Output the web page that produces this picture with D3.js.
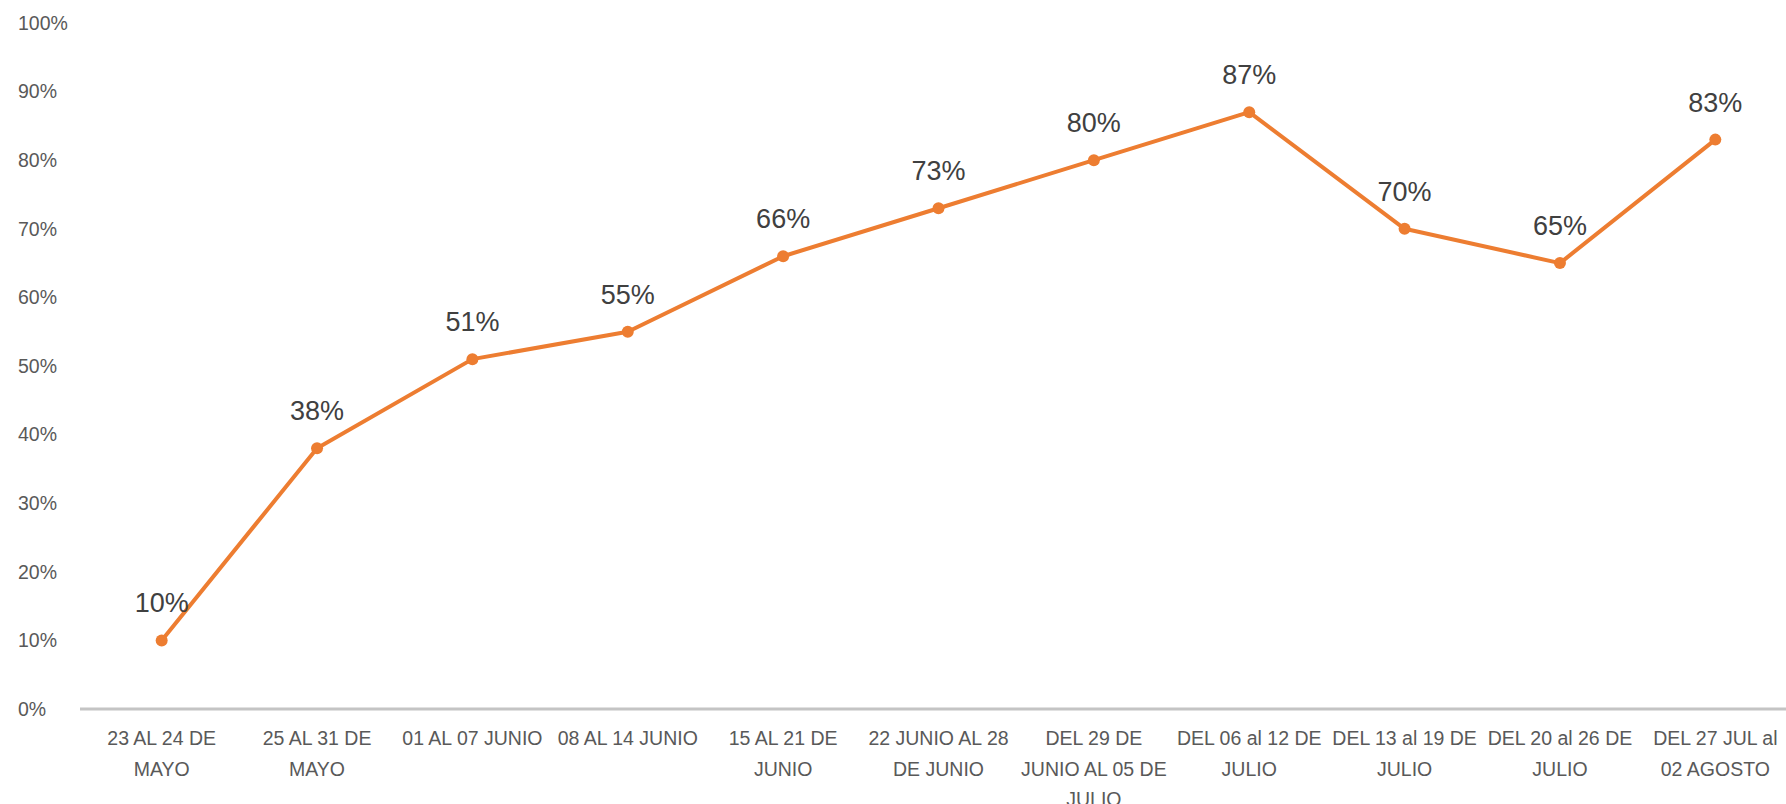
<!DOCTYPE html>
<html>
<head>
<meta charset="utf-8">
<script src="https://cdn.jsdelivr.net/npm/d3@7/dist/d3.min.js"></script>
<style>
  html, body { margin: 0; padding: 0; background: #ffffff; }
  svg { display: block; }
  text { font-family: "Liberation Sans", Arial, sans-serif; }
</style>
</head>
<body>
<svg id="chart" width="1786" height="804"></svg>
<script>
// Weekly periods (category axis), wrapped as they appear under the axis
const categories = [
  ["23 AL 24 DE", "MAYO"],
  ["25 AL 31 DE", "MAYO"],
  ["01 AL 07 JUNIO"],
  ["08 AL 14 JUNIO"],
  ["15 AL 21 DE", "JUNIO"],
  ["22 JUNIO AL 28", "DE JUNIO"],
  ["DEL 29 DE", "JUNIO AL 05 DE", "JULIO"],
  ["DEL 06 al 12 DE", "JULIO"],
  ["DEL 13 al 19 DE", "JULIO"],
  ["DEL 20 al 26 DE", "JULIO"],
  ["DEL 27 JUL al", "02 AGOSTO"]
];

// Percentage per period
const values = [0.10, 0.38, 0.51, 0.55, 0.66, 0.73, 0.80, 0.87, 0.70, 0.65, 0.83];

// Y axis tick values
const yTicks = [0, 0.1, 0.2, 0.3, 0.4, 0.5, 0.6, 0.7, 0.8, 0.9, 1.0];

const svg = d3.select("#chart");
const keys = categories.map((c, i) => i);

const x = d3.scaleBand().domain(keys).range([84, 1793]).paddingInner(0).paddingOuter(0);
const y = d3.scaleLinear().domain([0, 1]).range([709, 23]);
const pct = d3.format(".0%");
const cx = i => x(i) + x.bandwidth() / 2;

// Y axis labels, left aligned, no axis line
const yAxis = svg.append("g")
  .attr("transform", "translate(18,0)")
  .call(d3.axisRight(y).tickValues(yTicks).tickFormat(pct).tickSize(0).tickPadding(0));
yAxis.select(".domain").remove();
yAxis.selectAll("text")
  .attr("fill", "#595959")
  .style("font-size", "19.5px")
  .attr("x", 0);

// Category axis along the bottom
const xAxis = svg.append("g")
  .attr("transform", `translate(0,${y(0)})`)
  .call(d3.axisBottom(x).tickSize(0).tickFormat(""));
xAxis.select(".domain")
  .attr("stroke", "#c4c4c4")
  .attr("stroke-width", 3)
  .attr("d", `M80,0H1786`);

xAxis.selectAll(".tick").each(function (d) {
  const t = d3.select(this).select("text")
    .attr("fill", "#595959")
    .attr("text-anchor", "middle")
    .style("font-size", "19.5px")
    .attr("y", 0)
    .attr("dy", null);
  categories[d].forEach((line, k) => {
    t.append("tspan")
      .attr("x", 0)
      .attr("y", 36 + k * 30.5)
      .text(line);
  });
});

// Line
const line = d3.line()
  .x((d, i) => cx(i))
  .y(d => y(d));

svg.append("path")
  .datum(values)
  .attr("fill", "none")
  .attr("stroke", "#ED7D31")
  .attr("stroke-width", 4)
  .attr("stroke-linejoin", "round")
  .attr("d", line);

// Markers
svg.selectAll("circle.marker")
  .data(values)
  .join("circle")
  .attr("class", "marker")
  .attr("cx", (d, i) => cx(i))
  .attr("cy", d => y(d))
  .attr("r", 6)
  .attr("fill", "#ED7D31");

// Value labels above each point
svg.selectAll("text.value")
  .data(values)
  .join("text")
  .attr("class", "value")
  .attr("x", (d, i) => cx(i))
  .attr("y", d => y(d) - 28)
  .attr("text-anchor", "middle")
  .attr("fill", "#404040")
  .style("font-size", "27px")
  .text(d => pct(d));
</script>
</body>
</html>
